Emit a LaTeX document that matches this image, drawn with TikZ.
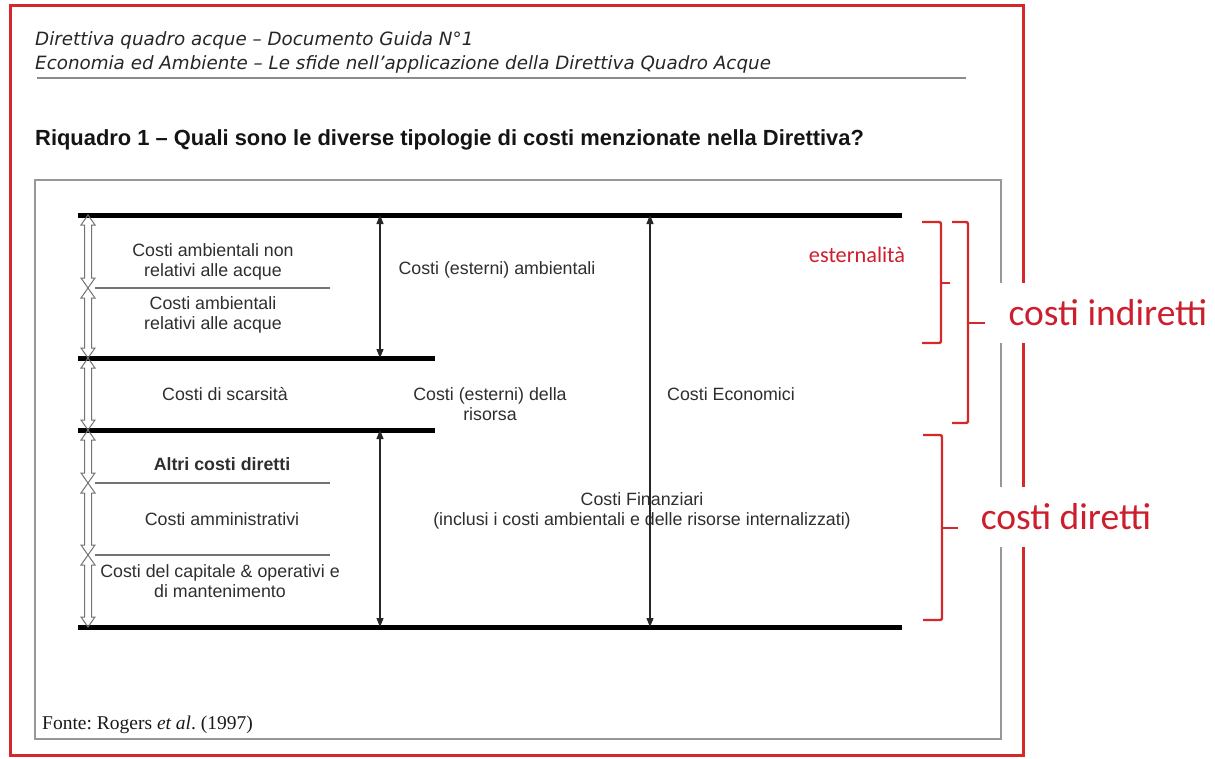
\documentclass[tikz,border=0pt]{standalone}
\usepackage{fontspec}
\setmainfont{Liberation Sans}
\newfontfamily\headfont{DejaVu Sans}
\newfontfamily\calfont{Carlito}
\newfontfamily\timesfont{Liberation Serif}
\usetikzlibrary{calc}
\usetikzlibrary{arrows.meta}
\frenchspacing

\definecolor{framered}{RGB}{212,40,42}
\definecolor{notered}{RGB}{204,30,45}
\definecolor{boxgray}{RGB}{150,150,155}

% outline of a double headed block arrow between two points (upper, lower)
\newcommand{\hollowarrow}[2]{%
  \draw[hollow] let \p1=(#1), \p2=(#2) in
    (\x1,\y1) -- (\x1-7pt,\y1-10pt) -- (\x1-3.5pt,\y1-10pt) -- (\x1-3.5pt,\y2+10pt)
    -- (\x1-7pt,\y2+10pt) -- (\x2,\y2) -- (\x1+7pt,\y2+10pt) -- (\x1+3.5pt,\y2+10pt)
    -- (\x1+3.5pt,\y1-10pt) -- (\x1+7pt,\y1-10pt) -- cycle;}

\begin{document}
\begin{tikzpicture}[x=1pt, y=-1pt,
                      >={Triangle[length=9pt,width=7pt]},
                      level/.style={line width=5pt, black},
                      sep/.style={line width=1.2pt, black!55},
                      hollow/.style={line width=1pt, draw=black!55, line join=miter},
                      thinarrow/.style={<->, line width=1.2pt, black!85},
                      txt/.style={font=\fontsize{17.8}{20}\selectfont, align=center, text=black!82, inner sep=0pt},
                      brace/.style={line width=2.4pt, framered, rounded corners=2pt},
                      redlabel/.style={font=\calfont\fontsize{37.5}{40}\selectfont, text=notered, fill=white, inner xsep=10pt, minimum height=60pt},
                  ]
    \useasboundingbox (0,0) rectangle (1215,758);

    %Frames
    \draw[line width=3pt, framered] (10,5) rectangle (1023,755);
    \draw[line width=2pt, boxgray] (35,180) rectangle (1001,739);
    \draw[line width=2.5pt, black!45] (37,78) -- (966,78);

    %Header
    \node[anchor=west, inner sep=0pt, font=\headfont\itshape\fontsize{18.3}{22}\selectfont, text=black!85] (head1) at (35,40) {Direttiva quadro acque – Documento Guida N°1};
    \node[anchor=west, inner sep=0pt, font=\headfont\itshape\fontsize{18.3}{22}\selectfont, text=black!85] (head2) at (35,64) {Economia ed Ambiente – Le sfide nell’applicazione della Direttiva Quadro Acque};
    \node[anchor=west, inner sep=0pt, font=\bfseries\fontsize{21.9}{24}\selectfont, text=black!92] (title) at (35,140) {Riquadro 1 – Quali sono le diverse tipologie di costi menzionate nella Direttiva?};

    %Levels
    \coordinate (a0) at (78,215);  \coordinate (b0) at (902,215);
    \coordinate (a1) at (78,358);  \coordinate (b1) at (435,358);
    \coordinate (a2) at (78,430);  \coordinate (b2) at (435,430);
    \coordinate (a3) at (78,627);  \coordinate (b3) at (902,627);
    \coordinate (s1) at (95,288);  \coordinate (t1) at (330,288);
    \coordinate (s2) at (95,483);  \coordinate (t2) at (330,483);
    \coordinate (s3) at (95,555);  \coordinate (t3) at (330,555);

    \draw[level] (a0) -- (b0);
    \draw[level] (a1) -- (b1);
    \draw[level] (a2) -- (b2);
    \draw[level] (a3) -- (b3);
    \draw[sep] (s1) -- (t1);
    \draw[sep] (s2) -- (t2);
    \draw[sep] (s3) -- (t3);

    %Block arrows
    \coordinate (h0) at (88,215);
    \coordinate (h1) at (88,288);
    \coordinate (h2) at (88,358);
    \coordinate (h3) at (88,430);
    \coordinate (h4) at (88,483);
    \coordinate (h5) at (88,555);
    \coordinate (h6) at (88,627);
    \hollowarrow{h0}{h1}
    \hollowarrow{h1}{h2}
    \hollowarrow{h2}{h3}
    \hollowarrow{h3}{h4}
    \hollowarrow{h4}{h5}
    \hollowarrow{h5}{h6}

    %Nodes
    \node[txt] (ambnon)  at (213,262) {Costi ambientali non\\relativi alle acque};
    \node[txt] (ambacq)  at (213,315) {Costi ambientali\\relativi alle acque};
    \node[txt] (estamb)  at (497,270) {Costi (esterni) ambientali};
    \node[txt] (scars)   at (225,394) {Costi di scarsità};
    \node[txt] (estris)  at (490,404) {Costi (esterni) della\\risorsa};
    \node[txt] (econ)    at (731,394) {Costi Economici};
    \node[txt, font=\bfseries\fontsize{17.8}{20}\selectfont] (altri) at (222,464) {Altri costi diretti};
    \node[txt] (ammin)   at (222,519) {Costi amministrativi};
    \node[txt] (capit)   at (220,581) {Costi del capitale \& operativi e\\di mantenimento};
    \node[txt] (finanz)  at (642,511) {Costi Finanziari\\(inclusi i costi ambientali e delle risorse internalizzati)};
    \node[anchor=west, inner sep=0pt, font=\timesfont\fontsize{19.5}{22}\selectfont, text=black!90] (fonte) at (42,725) {Fonte: Rogers \textit{et al}. (1997)};

    %Thin arrows
    \coordinate (e0) at (380,215); \coordinate (e1) at (380,358);
    \coordinate (f0) at (380,430); \coordinate (f1) at (380,627);
    \coordinate (g0) at (650,215); \coordinate (g1) at (650,627);
    \draw[thinarrow] (e0) -- (e1);
    \draw[thinarrow] (f0) -- (f1);
    \draw[thinarrow] (g0) -- (g1);

    %Braces
    \draw[brace] (922,222) -- (941,222) -- (941,343) -- (922,343);
    \draw[brace] (941,283) -- (950,283);
    \draw[brace] (952,222) -- (968,222) -- (968,423) -- (952,423);
    \draw[brace] (968,323) -- (985,323);
    \draw[brace] (923,435) -- (942,435) -- (942,620) -- (923,620);
    \draw[brace] (942,528) -- (958,528);

    %Red labels
    \node[inner sep=0pt, font=\calfont\fontsize{22.3}{24}\selectfont, text=notered] (ester) at (857,255) {esternalità};
    \node[redlabel] (indir) at (1108,313) {costi indiretti};
    \node[redlabel] (dir)   at (1066,517) {costi diretti};
\end{tikzpicture}
\end{document}
